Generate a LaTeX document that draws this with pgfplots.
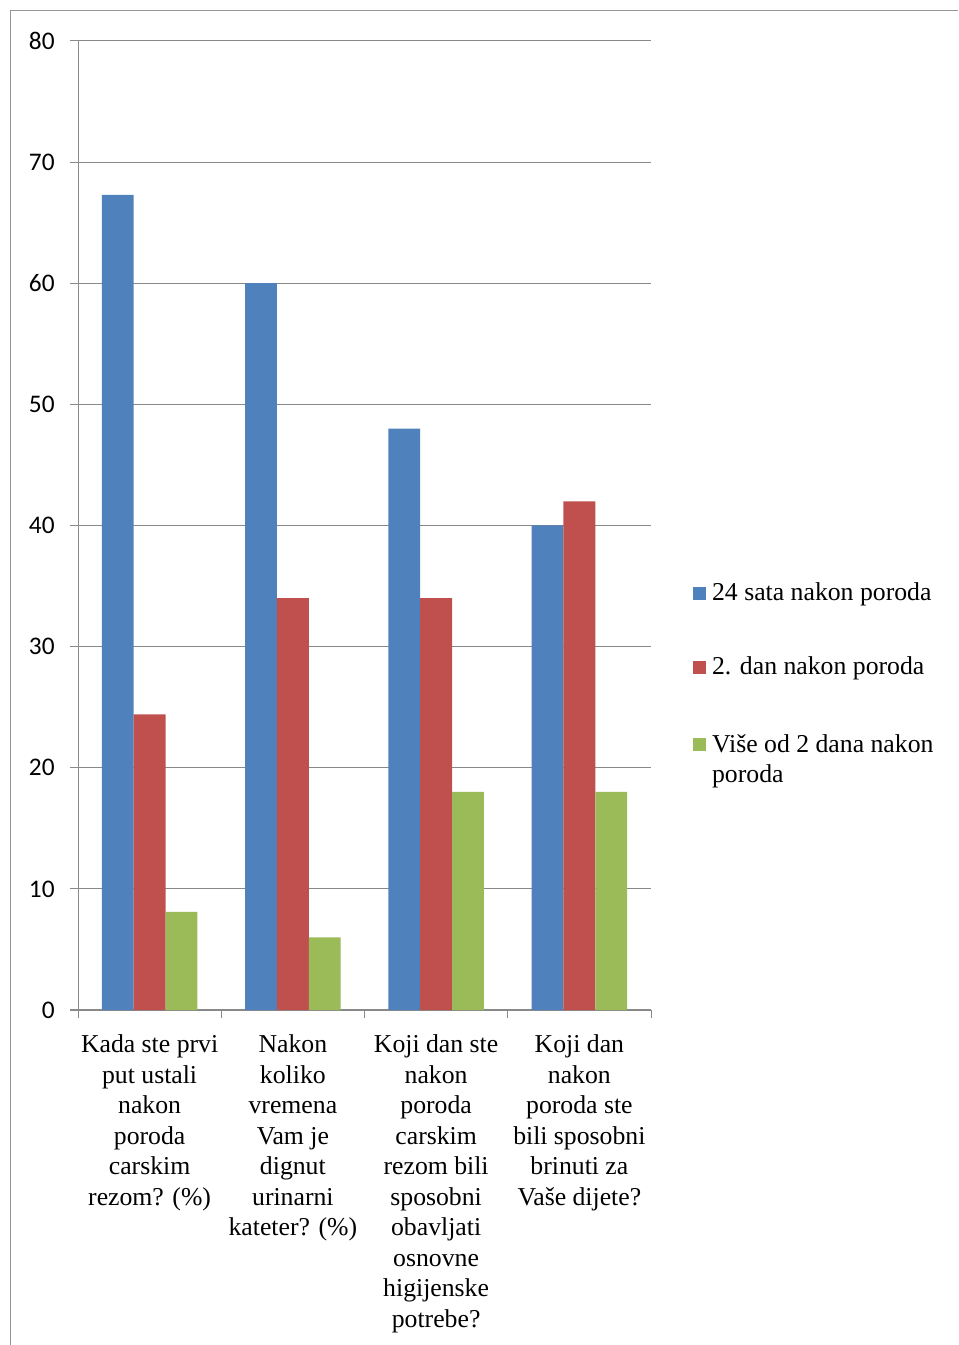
\documentclass[border=0pt]{standalone}
\usepackage{pgfplots}
\pgfplotsset{compat=1.18}
\usepackage{fontspec}
\setmainfont{Liberation Serif}
\newfontfamily\carlito{Carlito}

\definecolor{barblue}{HTML}{4F81BD}
\definecolor{barred}{HTML}{C0504D}
\definecolor{bargreen}{HTML}{9BBB59}
\definecolor{gridgray}{HTML}{898989}
\definecolor{framegray}{HTML}{969696}

\begin{document}
\begin{tikzpicture}
\useasboundingbox (0,0) rectangle (718.5pt,1008.75pt);
\draw[framegray, line width=0.75pt] (7.5pt,0) -- (7.5pt,1000.5pt) -- (718.5pt,1000.5pt);
\begin{axis}[
    at={(58.5pt,251.25pt)}, anchor=south west,
    scale only axis, width=429.75pt, height=726.75pt,
    ybar=0pt, bar width=23.85pt,
    xmin=-0.5, xmax=3.5, ymin=0, ymax=80,
    enlargelimits=false,
    ytick={0,10,...,80},
    xtick={-0.5,0.5,1.5,2.5,3.5},
    x tick label as interval,
    xticklabels={
        {Kada ste prvi\\put ustali\\nakon\\poroda\\carskim\\rezom? (\%)},
        {Nakon\\koliko\\vremena\\Vam je\\dignut\\urinarni\\kateter? (\%)},
        {Koji dan ste\\nakon\\poroda\\carskim\\rezom bili\\sposobni\\obavljati\\osnovne\\higijenske\\potrebe?},
        {Koji dan\\nakon\\poroda ste\\bili sposobni\\brinuti za\\Vaše dijete?}},
    xticklabel style={font=\fontsize{19.3pt}{22.9pt}\selectfont, align=center, anchor=north, yshift=-9pt},
    yticklabel style={font=\carlito\fontsize{19pt}{19pt}\selectfont, xshift=-8pt},
    /pgf/number format/assume math mode=true,
    ymajorgrids,
    grid style={draw=gridgray, line width=0.75pt},
    axis x line*=bottom, axis y line*=left,
    axis line style={draw=gridgray, line width=0.75pt, -},
    tick style={draw=gridgray, line width=0.75pt},
    major tick length=6pt,
    tick align=outside,
    legend style={at={(1.073,0.441)}, anchor=north west, draw=none, fill=none,
        inner sep=0pt, row sep=40.5pt,
        font=\fontsize{19.3pt}{22.9pt}\selectfont,
        nodes={anchor=base west, inner xsep=4.5pt, inner ysep=0pt}},
    legend cell align=left,
    legend image code/.code={\path[#1,draw=none] (0pt,0.75pt) rectangle (9.75pt,10.5pt);},
]
\addplot[fill=barblue, draw=none] coordinates {(0,67.3) (1,60) (2,48) (3,40)};
\addplot[fill=barred, draw=none] coordinates {(0,24.4) (1,34) (2,34) (3,42)};
\addplot[fill=bargreen, draw=none] coordinates {(0,8.1) (1,6) (2,18) (3,18)};
\legend{24 sata nakon poroda, 2. dan nakon poroda,
    {\begin{tabular}[t]{@{}l@{}}Više od 2 dana nakon\\poroda\end{tabular}}}
\end{axis}
\end{tikzpicture}
\end{document}
